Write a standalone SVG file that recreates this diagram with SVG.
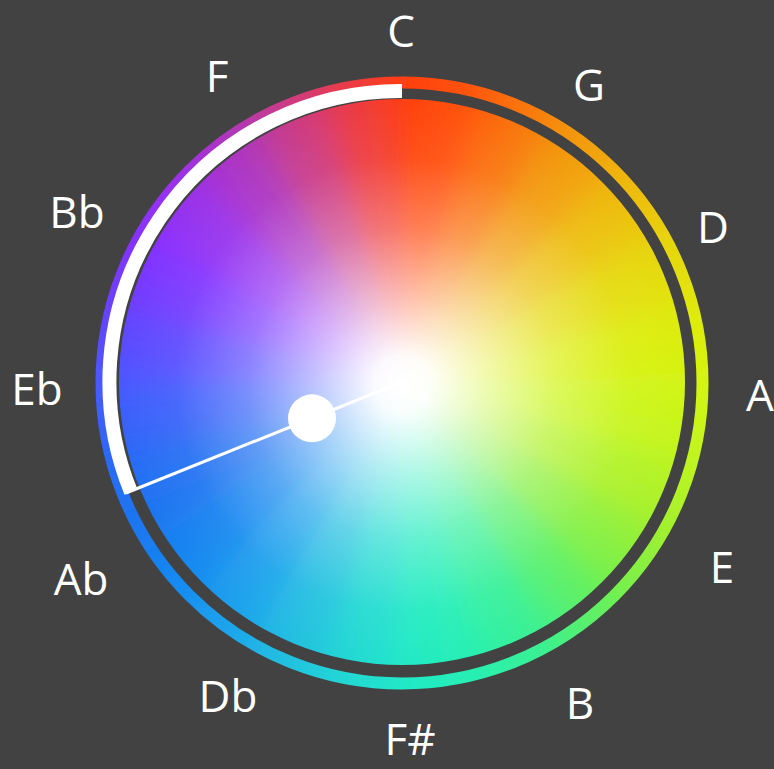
<svg xmlns="http://www.w3.org/2000/svg" width="774" height="769" viewBox="0 0 774 769">
<style>
.lbl{font-family:"Open Sans","Liberation Sans",sans-serif;font-size:44px;fill:#ffffff;text-anchor:middle}
</style>
<defs>
<linearGradient id="g0" gradientUnits="userSpaceOnUse" x1="0" y1="-100" x2="25.88" y2="-96.59"><stop offset="0" stop-color="#ff3d10"/><stop offset="1" stop-color="#ff5a10"/></linearGradient>
<linearGradient id="g1" gradientUnits="userSpaceOnUse" x1="25.88" y1="-96.59" x2="50" y2="-86.6"><stop offset="0" stop-color="#ff5a10"/><stop offset="1" stop-color="#f58a0a"/></linearGradient>
<linearGradient id="g2" gradientUnits="userSpaceOnUse" x1="50" y1="-86.6" x2="70.71" y2="-70.71"><stop offset="0" stop-color="#f58a0a"/><stop offset="1" stop-color="#f0b010"/></linearGradient>
<linearGradient id="g3" gradientUnits="userSpaceOnUse" x1="70.71" y1="-70.71" x2="86.6" y2="-50"><stop offset="0" stop-color="#f0b010"/><stop offset="1" stop-color="#e8d010"/></linearGradient>
<linearGradient id="g4" gradientUnits="userSpaceOnUse" x1="86.6" y1="-50" x2="96.59" y2="-25.88"><stop offset="0" stop-color="#e8d010"/><stop offset="1" stop-color="#e0e810"/></linearGradient>
<linearGradient id="g5" gradientUnits="userSpaceOnUse" x1="96.59" y1="-25.88" x2="100" y2="0"><stop offset="0" stop-color="#e0e810"/><stop offset="1" stop-color="#d4f512"/></linearGradient>
<linearGradient id="g6" gradientUnits="userSpaceOnUse" x1="100" y1="0" x2="96.59" y2="25.88"><stop offset="0" stop-color="#d4f512"/><stop offset="1" stop-color="#bff520"/></linearGradient>
<linearGradient id="g7" gradientUnits="userSpaceOnUse" x1="96.59" y1="25.88" x2="86.6" y2="50"><stop offset="0" stop-color="#bff520"/><stop offset="1" stop-color="#a0f030"/></linearGradient>
<linearGradient id="g8" gradientUnits="userSpaceOnUse" x1="86.6" y1="50" x2="70.71" y2="70.71"><stop offset="0" stop-color="#a0f030"/><stop offset="1" stop-color="#70f050"/></linearGradient>
<linearGradient id="g9" gradientUnits="userSpaceOnUse" x1="70.71" y1="70.71" x2="50" y2="86.6"><stop offset="0" stop-color="#70f050"/><stop offset="1" stop-color="#40f08a"/></linearGradient>
<linearGradient id="g10" gradientUnits="userSpaceOnUse" x1="50" y1="86.6" x2="25.88" y2="96.59"><stop offset="0" stop-color="#40f08a"/><stop offset="1" stop-color="#28f0b0"/></linearGradient>
<linearGradient id="g11" gradientUnits="userSpaceOnUse" x1="25.88" y1="96.59" x2="0" y2="100"><stop offset="0" stop-color="#28f0b0"/><stop offset="1" stop-color="#20e8c8"/></linearGradient>
<linearGradient id="g12" gradientUnits="userSpaceOnUse" x1="0" y1="100" x2="-25.88" y2="96.59"><stop offset="0" stop-color="#20e8c8"/><stop offset="1" stop-color="#20d0d8"/></linearGradient>
<linearGradient id="g13" gradientUnits="userSpaceOnUse" x1="-25.88" y1="96.59" x2="-50" y2="86.6"><stop offset="0" stop-color="#20d0d8"/><stop offset="1" stop-color="#20b0e8"/></linearGradient>
<linearGradient id="g14" gradientUnits="userSpaceOnUse" x1="-50" y1="86.6" x2="-70.71" y2="70.71"><stop offset="0" stop-color="#20b0e8"/><stop offset="1" stop-color="#1890f0"/></linearGradient>
<linearGradient id="g15" gradientUnits="userSpaceOnUse" x1="-70.71" y1="70.71" x2="-86.6" y2="50"><stop offset="0" stop-color="#1890f0"/><stop offset="1" stop-color="#1a78f0"/></linearGradient>
<linearGradient id="g16" gradientUnits="userSpaceOnUse" x1="-86.6" y1="50" x2="-96.59" y2="25.88"><stop offset="0" stop-color="#1a78f0"/><stop offset="1" stop-color="#2a6af5"/></linearGradient>
<linearGradient id="g17" gradientUnits="userSpaceOnUse" x1="-96.59" y1="25.88" x2="-100" y2="0"><stop offset="0" stop-color="#2a6af5"/><stop offset="1" stop-color="#4a58ff"/></linearGradient>
<linearGradient id="g18" gradientUnits="userSpaceOnUse" x1="-100" y1="0" x2="-96.59" y2="-25.88"><stop offset="0" stop-color="#4a58ff"/><stop offset="1" stop-color="#6a40ff"/></linearGradient>
<linearGradient id="g19" gradientUnits="userSpaceOnUse" x1="-96.59" y1="-25.88" x2="-86.6" y2="-50"><stop offset="0" stop-color="#6a40ff"/><stop offset="1" stop-color="#8a30ff"/></linearGradient>
<linearGradient id="g20" gradientUnits="userSpaceOnUse" x1="-86.6" y1="-50" x2="-70.71" y2="-70.71"><stop offset="0" stop-color="#8a30ff"/><stop offset="1" stop-color="#a030e0"/></linearGradient>
<linearGradient id="g21" gradientUnits="userSpaceOnUse" x1="-70.71" y1="-70.71" x2="-50" y2="-86.6"><stop offset="0" stop-color="#a030e0"/><stop offset="1" stop-color="#b83aa8"/></linearGradient>
<linearGradient id="g22" gradientUnits="userSpaceOnUse" x1="-50" y1="-86.6" x2="-25.88" y2="-96.59"><stop offset="0" stop-color="#b83aa8"/><stop offset="1" stop-color="#e03a60"/></linearGradient>
<linearGradient id="g23" gradientUnits="userSpaceOnUse" x1="-25.88" y1="-96.59" x2="0" y2="-100"><stop offset="0" stop-color="#e03a60"/><stop offset="1" stop-color="#ff3d10"/></linearGradient>
<filter id="soft" x="-20%" y="-20%" width="140%" height="140%"><feGaussianBlur stdDeviation="2.6"/></filter>
<g id="hues" transform="translate(402,382) scale(3.3)" filter="url(#soft)" stroke-width="0.4">
<path d="M0,0L0,-100L25.88,-96.59Z" fill="url(#g0)" stroke="url(#g0)"/>
<path d="M0,0L25.88,-96.59L50,-86.6Z" fill="url(#g1)" stroke="url(#g1)"/>
<path d="M0,0L50,-86.6L70.71,-70.71Z" fill="url(#g2)" stroke="url(#g2)"/>
<path d="M0,0L70.71,-70.71L86.6,-50Z" fill="url(#g3)" stroke="url(#g3)"/>
<path d="M0,0L86.6,-50L96.59,-25.88Z" fill="url(#g4)" stroke="url(#g4)"/>
<path d="M0,0L96.59,-25.88L100,0Z" fill="url(#g5)" stroke="url(#g5)"/>
<path d="M0,0L100,0L96.59,25.88Z" fill="url(#g6)" stroke="url(#g6)"/>
<path d="M0,0L96.59,25.88L86.6,50Z" fill="url(#g7)" stroke="url(#g7)"/>
<path d="M0,0L86.6,50L70.71,70.71Z" fill="url(#g8)" stroke="url(#g8)"/>
<path d="M0,0L70.71,70.71L50,86.6Z" fill="url(#g9)" stroke="url(#g9)"/>
<path d="M0,0L50,86.6L25.88,96.59Z" fill="url(#g10)" stroke="url(#g10)"/>
<path d="M0,0L25.88,96.59L0,100Z" fill="url(#g11)" stroke="url(#g11)"/>
<path d="M0,0L0,100L-25.88,96.59Z" fill="url(#g12)" stroke="url(#g12)"/>
<path d="M0,0L-25.88,96.59L-50,86.6Z" fill="url(#g13)" stroke="url(#g13)"/>
<path d="M0,0L-50,86.6L-70.71,70.71Z" fill="url(#g14)" stroke="url(#g14)"/>
<path d="M0,0L-70.71,70.71L-86.6,50Z" fill="url(#g15)" stroke="url(#g15)"/>
<path d="M0,0L-86.6,50L-96.59,25.88Z" fill="url(#g16)" stroke="url(#g16)"/>
<path d="M0,0L-96.59,25.88L-100,0Z" fill="url(#g17)" stroke="url(#g17)"/>
<path d="M0,0L-100,0L-96.59,-25.88Z" fill="url(#g18)" stroke="url(#g18)"/>
<path d="M0,0L-96.59,-25.88L-86.6,-50Z" fill="url(#g19)" stroke="url(#g19)"/>
<path d="M0,0L-86.6,-50L-70.71,-70.71Z" fill="url(#g20)" stroke="url(#g20)"/>
<path d="M0,0L-70.71,-70.71L-50,-86.6Z" fill="url(#g21)" stroke="url(#g21)"/>
<path d="M0,0L-50,-86.6L-25.88,-96.59Z" fill="url(#g22)" stroke="url(#g22)"/>
<path d="M0,0L-25.88,-96.59L0,-100Z" fill="url(#g23)" stroke="url(#g23)"/>
</g>
<clipPath id="discClip"><circle cx="402" cy="382" r="283"/></clipPath>
<mask id="ringMask" maskUnits="userSpaceOnUse" x="0" y="0" width="774" height="769"><circle cx="402" cy="383" r="300.5" fill="none" stroke="#fff" stroke-width="12"/></mask>
<radialGradient id="whiteGlow" gradientUnits="userSpaceOnUse" cx="402" cy="384" r="283">
<stop offset="0" stop-color="#fff" stop-opacity="1"/>
<stop offset="0.1" stop-color="#fff" stop-opacity="0.97"/>
<stop offset="0.3" stop-color="#fff" stop-opacity="0.66"/>
<stop offset="0.55" stop-color="#fff" stop-opacity="0.3"/>
<stop offset="0.8" stop-color="#fff" stop-opacity="0.06"/>
<stop offset="1" stop-color="#fff" stop-opacity="0"/>
</radialGradient>
</defs>
<rect width="774" height="769" fill="#424242"/>
<g id="ring"><use href="#hues" mask="url(#ringMask)"/></g>
<g id="wheel">
<use href="#hues" clip-path="url(#discClip)"/>
<circle cx="402" cy="382" r="283" fill="url(#whiteGlow)"/>
</g>
<g id="connectors">
<path d="M402,91 A291,291 0 0,0 131,492" fill="none" stroke="#ffffff" stroke-width="14"/>
<line x1="402" y1="382" x2="126" y2="493" stroke="#ffffff" stroke-width="3"/>
</g>
<g id="knob"><circle cx="312" cy="418.3" r="24" fill="#ffffff"/></g>
<g id="label-C"><text class="lbl" x="401" y="47">C</text></g>
<g id="label-G"><text class="lbl" x="589" y="101">G</text></g>
<g id="label-D"><text class="lbl" x="713" y="243">D</text></g>
<g id="label-A"><text class="lbl" x="746" y="411" style="text-anchor:start">A</text></g>
<g id="label-E"><text class="lbl" x="722" y="583">E</text></g>
<g id="label-B"><text class="lbl" x="580" y="719">B</text></g>
<g id="label-Fsharp"><text class="lbl" x="410" y="755">F#</text></g>
<g id="label-Db"><text class="lbl" x="228" y="712">Db</text></g>
<g id="label-Ab"><text class="lbl" x="81" y="595">Ab</text></g>
<g id="label-Eb"><text class="lbl" x="37" y="405">Eb</text></g>
<g id="label-Bb"><text class="lbl" x="77" y="228">Bb</text></g>
<g id="label-F"><text class="lbl" x="217" y="92">F</text></g>
</svg>
